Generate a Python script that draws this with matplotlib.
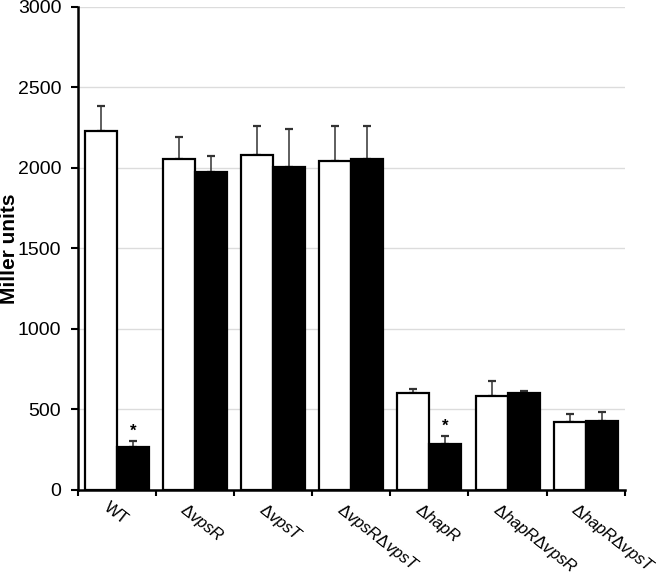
import numpy as np
import matplotlib
matplotlib.use('Agg')
from matplotlib import pyplot as plt
from matplotlib.transforms import ScaledTranslation

plt.rcParams['font.family'] = ['Liberation Sans', 'DejaVu Sans']
plt.rcParams['mathtext.fontset'] = 'custom'
plt.rcParams['mathtext.rm'] = 'Liberation Sans'
plt.rcParams['mathtext.it'] = 'Liberation Sans:italic'

# 菌株名称和两组数据（白柱 / 黑柱），误差只画上半部分
strains = ['WT', r'$\Delta\mathit{vpsR}$', r'$\Delta\mathit{vpsT}$',
           r'$\Delta\mathit{vpsR}\Delta\mathit{vpsT}$', r'$\Delta\mathit{hapR}$',
           r'$\Delta\mathit{hapR}\Delta\mathit{vpsR}$', r'$\Delta\mathit{hapR}\Delta\mathit{vpsT}$']
white_vals = [2230, 2056, 2081, 2045, 603, 586, 424]
white_err = [155, 137, 180, 218, 25, 92, 50]
black_vals = [268, 1975, 2006, 2056, 286, 600, 428]
black_err = [36, 100, 238, 205, 50, 15, 56]
star_idx = [0, 4]  # 黑柱上有星号的位置

x = np.arange(len(strains))
w = 0.41

fig = plt.figure(figsize=(6.66, 5.77), dpi=100)
ax = fig.add_axes([0.117, 0.151, 0.821, 0.837])

ax.set_axisbelow(True)
ax.yaxis.grid(True, color='#dcdcdc', linewidth=1)

ax.bar(x - w / 2, white_vals, w, color='white', edgecolor='black', linewidth=1.6, zorder=3)
ax.bar(x + w / 2, black_vals, w, color='black', edgecolor='black', linewidth=1.6, zorder=3)
ax.errorbar(x - w / 2, white_vals, yerr=[np.zeros(len(x)), white_err], fmt='none',
            ecolor='#333333', elinewidth=1.1, capsize=3, capthick=1.6, zorder=2)
ax.errorbar(x + w / 2, black_vals, yerr=[np.zeros(len(x)), black_err], fmt='none',
            ecolor='#333333', elinewidth=1.1, capsize=3, capthick=1.6, zorder=2)
for i in star_idx:
    ax.text(x[i] + w / 2, black_vals[i] + black_err[i] + 15, '*', ha='center', va='bottom',
            fontsize=12, fontweight='bold')

ax.set_xlim(-0.5, len(x) - 0.5)
ax.set_ylim(0, 3000)
ax.set_yticks(np.arange(0, 3001, 500))
ax.tick_params(axis='y', labelsize=14, length=5, width=1.5, direction='out', pad=7)

ax.set_xticks(x)
ax.set_xticklabels(strains, rotation=-38, ha='left', va='top', rotation_mode='anchor', fontsize=12)
ax.tick_params(axis='x', which='major', length=0, pad=7)
ax.set_xticks(np.arange(-0.5, len(x)), minor=True)
ax.tick_params(axis='x', which='minor', length=4, width=1.5, direction='out')
# 标签起点稍微往左移
offset = ScaledTranslation(-5 / 72, 0, fig.dpi_scale_trans)
for lab in ax.get_xticklabels():
    lab.set_transform(lab.get_transform() + offset)

for s in ['top', 'right']:
    ax.spines[s].set_visible(False)
ax.spines['left'].set_linewidth(1.8)
ax.spines['bottom'].set_linewidth(1.8)

ax.set_ylabel('Miller units', fontsize=15, fontweight='bold')
ax.yaxis.set_label_coords(-0.108, 0.5)

fig.savefig('out.png', dpi=100)
